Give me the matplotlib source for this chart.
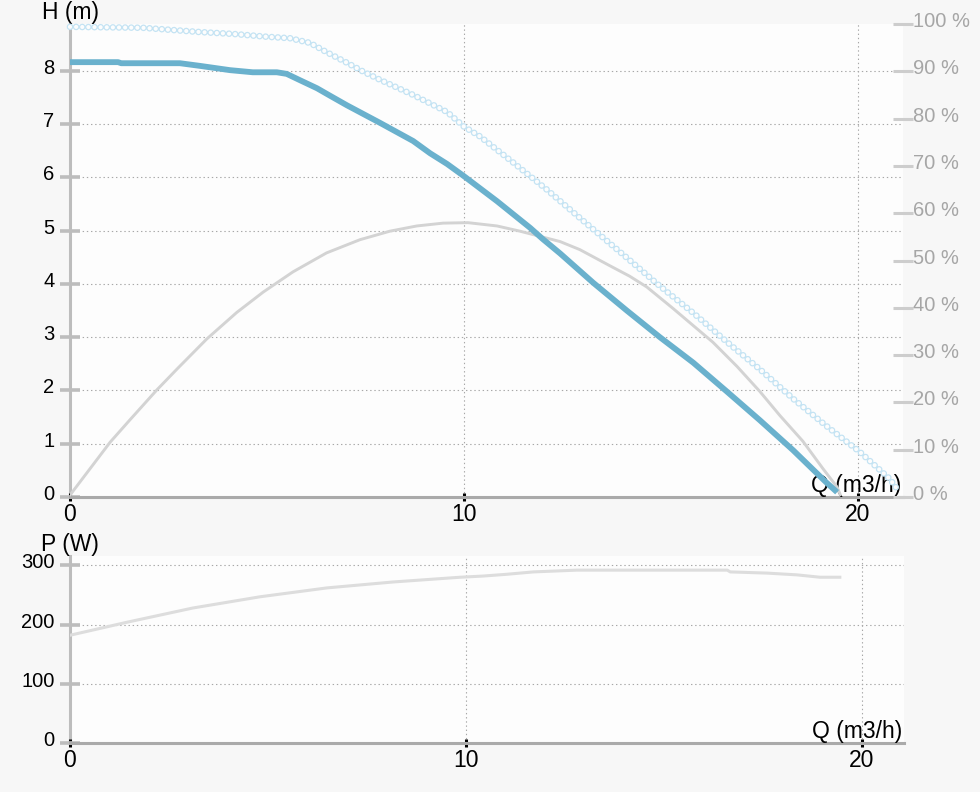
import matplotlib
matplotlib.use('Agg')
import matplotlib.pyplot as plt
import matplotlib.transforms as mtransforms

plt.rcParams['font.family'] = ['Liberation Sans', 'DejaVu Sans']
plt.rcParams['lines.scale_dashes'] = False

# ---------------- data ----------------
q_head = [0, 1.22, 1.3, 2.79, 3.3, 4.06, 4.64, 5.25, 5.5, 5.84, 6.27, 6.6, 7.03, 7.87,
          8.71, 9.14, 9.57, 10.0, 10.84, 11.68, 12.0, 12.44, 13.28, 14.13, 14.97, 15.82,
          16.67, 17.51, 18.35, 19.2, 19.47]
head = [8.16, 8.16, 8.14, 8.14, 8.09, 8.01, 7.97, 7.97, 7.94, 7.82, 7.67, 7.53, 7.35, 7.02,
        6.68, 6.45, 6.25, 6.02, 5.55, 5.05, 4.84, 4.57, 4.02, 3.50, 3.00, 2.52,
        1.98, 1.44, 0.88, 0.27, 0.09]

q_eff = [0, 1.02, 1.52, 2.2, 2.71, 3.47, 4.23, 4.9, 5.66, 6.51, 7.36, 8.12, 8.8, 9.47,
         10.1, 10.84, 11.42, 12.44, 12.94, 13.7, 14.2, 14.64, 15.3, 16.32, 16.93, 17.51,
         18.02, 18.6, 19.11, 19.47, 19.55]
eff = [0.4, 11.6, 16.3, 22.6, 27.0, 33.4, 39.0, 43.3, 47.6, 51.6, 54.4, 56.2, 57.3, 57.9,
       58.0, 57.3, 56.2, 54.0, 52.3, 48.9, 46.7, 44.4, 39.9, 32.7, 27.6, 22.3,
       17.2, 11.8, 6.0, 2.1, 0.5]

q_ring = [0, 1.85, 3.3, 4.14, 5.0, 5.58, 6.09, 6.5, 7.03, 7.45, 7.87, 8.71, 9.57, 10.0,
          10.41, 11.25, 12.1, 12.94, 13.28, 14.13, 14.97, 15.82, 16.67, 17.51, 18.35,
          19.2, 20.05, 20.81, 20.99]
ring = [99.4, 99.2, 98.3, 97.9, 97.3, 97.0, 96.0, 94.1, 91.8, 89.9, 88.2, 85.0, 81.4, 78.3,
        76.2, 70.7, 65.0, 59.0, 56.6, 50.6, 44.6, 38.9, 32.8, 27.0, 20.8,
        15.0, 9.5, 3.8, 1.7]

q_pow = [0, 1.44, 3.1, 4.8, 6.49, 8.16, 9.85, 10.43, 11.03, 11.7, 12.8, 16.6, 16.67,
         17.6, 18.36, 18.94, 19.44]
power = [182, 204, 228, 247, 262, 272, 280, 282, 285, 289, 292, 292, 289,
         287, 284, 280, 280]

x_ticks = [0, 10, 20]
h_ticks = [0, 1, 2, 3, 4, 5, 6, 7, 8]
pct_ticks = [0, 10, 20, 30, 40, 50, 60, 70, 80, 90, 100]
pct_labels = [f"{v} %" for v in pct_ticks]
p_ticks = [0, 100, 200, 300]

# ---------------- layout ----------------
W, H = 980, 792
fig = plt.figure(figsize=(W / 100, H / 100), dpi=100, facecolor='#f7f7f7')


def rect(x0, y0, x1, y1):
    return [x0 / W, 1 - y1 / H, (x1 - x0) / W, (y1 - y0) / H]


ax = fig.add_axes(rect(70, 24, 903, 497))
axb = fig.add_axes(rect(70, 556, 904, 743))

up = mtransforms.ScaledTranslation(0, 0.045, fig.dpi_scale_trans)
GRID = '#a8a8a8'
YFS = 14.5
XFS = 16.5
TFS = 16.5


def style(a, xmax, ymax, yticks):
    a.set_facecolor('#fdfdfd')
    a.set_xlim(0, xmax)
    a.set_ylim(0, ymax)
    for s in ('top', 'right'):
        a.spines[s].set_visible(False)
    a.spines['left'].set_color('#bdbdbd')
    a.spines['left'].set_linewidth(2.2)
    a.spines['bottom'].set_color('#aaaaaa')
    a.spines['bottom'].set_linewidth(2.2)
    a.spines['left'].set_zorder(0.5)
    a.set_xticks(x_ticks)
    a.set_yticks(yticks)
    a.tick_params(axis='y', direction='inout', length=14.4, width=2.6, color='#bdbdbd',
                  labelsize=YFS, pad=4, labelcolor='black')
    a.tick_params(axis='x', direction='inout', length=6, width=2.2, color='black',
                  labelsize=XFS, pad=1.5, labelcolor='black')
    for y in yticks[1:]:
        a.axhline(y, xmin=8 / 833, color=GRID, lw=0.8, ls=(0, (1, 2)), zorder=0.6)
    for x in x_ticks[1:]:
        a.axvline(x, color=GRID, lw=0.8, ls=(0, (1, 2)), zorder=0.6)
    for lab in a.get_yticklabels():
        lab.set_transform(lab.get_transform() + up)


style(ax, (903 - 70) / 39.4, (497 - 24) / 53.29, h_ticks)
style(axb, (904 - 70) / 39.6, (743 - 556) / 0.592, p_ticks)

# right percent axis
ax2 = ax.twinx()
ax2.set_ylim(0, 100)
for s in ax2.spines.values():
    s.set_visible(False)
ax2.set_yticks(pct_ticks)
ax2.set_yticklabels(pct_labels)
ax2.tick_params(axis='y', direction='inout', length=14.4, width=2.2, color='#cdcdcd',
                labelsize=14.5, pad=0, labelcolor='#a6a6a6')
for lab in ax2.get_yticklabels():
    lab.set_transform(lab.get_transform() + up)

# ---------------- curves ----------------
ax2.plot(q_eff, eff, color='#d3d3d3', lw=2.1, solid_capstyle='round',
         solid_joinstyle='round', zorder=2)
ax2.plot(q_ring, ring, color='#c4e3f3', lw=4.8, dashes=(0.01, 4.4),
         dash_capstyle='round', zorder=3, clip_on=False)
ax2.plot(q_ring, ring, color='#fdfdfd', lw=3.0, dashes=(0.01, 4.4),
         dash_capstyle='round', zorder=3.1, clip_on=False)
ax2.plot(q_head, head, color='#6ab1cd', lw=4.2, solid_capstyle='butt',
         solid_joinstyle='round', zorder=4, transform=ax.transData)

axb.plot(q_pow, power, color='#dddddd', lw=2.2, zorder=2)

# ---------------- axis titles ----------------
ax.text(0, 1, 'H (m)', transform=ax.transAxes, ha='center', va='bottom', fontsize=TFS)
ax.text(0.998, 0.0, 'Q (m3/h)', transform=ax.transAxes, ha='right', va='bottom',
        fontsize=TFS, zorder=10)
axb.text(0, 1, 'P (W)', transform=axb.transAxes, ha='center', va='bottom', fontsize=TFS)
axb.text(0.998, 0.0, 'Q (m3/h)', transform=axb.transAxes, ha='right', va='bottom',
         fontsize=TFS, zorder=10)

fig.savefig('out.png', dpi=100, facecolor=fig.get_facecolor())
